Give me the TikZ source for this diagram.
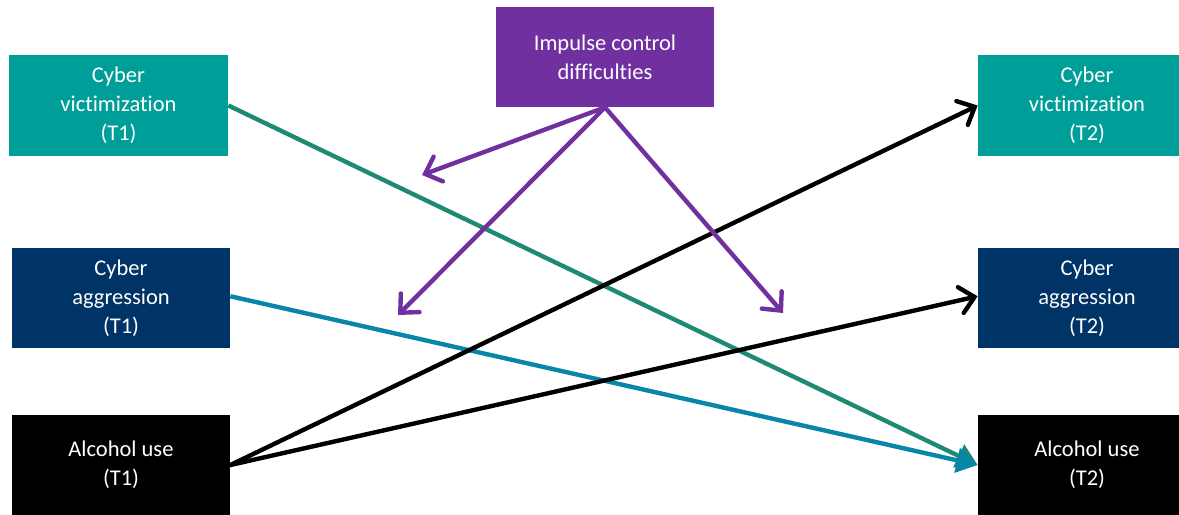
\documentclass[tikz,border=0pt]{standalone}
\usepackage{fontspec}
\setmainfont{Carlito}[Ligatures=NoCommon]
\usetikzlibrary{arrows.meta}
\definecolor{tealbox}{RGB}{0,158,153}
\definecolor{navybox}{RGB}{0,51,102}
\definecolor{purplebox}{RGB}{112,48,160}
\definecolor{greenline}{RGB}{30,138,116}
\definecolor{blueline}{RGB}{8,134,168}
\begin{document}
\begin{tikzpicture}[x=0.02cm, y=-0.02cm,
		box/.style={minimum width=218*0.02cm, minimum height=100*0.02cm, inner sep=0pt, text=white, align=center, font=\fontsize{12.8}{16.5}\selectfont},
		path/.style={line width=2.5pt, line cap=round, -{Straight Barb[length=8pt, width=15pt, line cap=round]}},
		fpath/.style={line width=2.5pt, -{Triangle[length=12pt, width=14pt]}}]
		\useasboundingbox (0,0) rectangle (1179,514);
		\clip (0,0) rectangle (1179,514);
		% left column
		\node[box, fill=tealbox, minimum width=219*0.02cm, minimum height=101*0.02cm] (CV1) at (118.5,105.5) {Cyber\\victimization\\(T1)};
		\node[box, fill=navybox] (CA1) at (121,298) {Cyber\\aggression\\(T1)};
		\node[box, fill=black] (AU1) at (121,465) {Alcohol use\\(T1)};
		% moderator
		\node[box, fill=purplebox] (IC) at (605,57) {Impulse control\\difficulties};
		% right column
		\node[box, fill=tealbox, minimum height=101*0.02cm] (CV2) at (1087,105.5) {Cyber\\victimization\\(T2)};
		\node[box, fill=navybox] (CA2) at (1087,298) {Cyber\\aggression\\(T2)};
		\node[box, fill=black] (AU2) at (1087,465) {Alcohol use\\(T2)};
		\coordinate (M1) at (422,175);
		\coordinate (M2) at (398,315);
		\coordinate (M3) at (783,313);

		\draw[fpath, greenline] (CV1.east) -- (AU2.west);
		\draw[fpath, blueline] ([yshift=1pt]CA1.east) -- (AU2.west);
		\draw[path, black] (AU1.east) -- (CV2.west);
		\draw[path, black] (AU1.east) -- ([yshift=1pt]CA2.west);
		\foreach \m in {M1, M2, M3}
		{
			\draw[path, purplebox] (IC.south) -- (\m);
		}
	\end{tikzpicture}
\end{document}
